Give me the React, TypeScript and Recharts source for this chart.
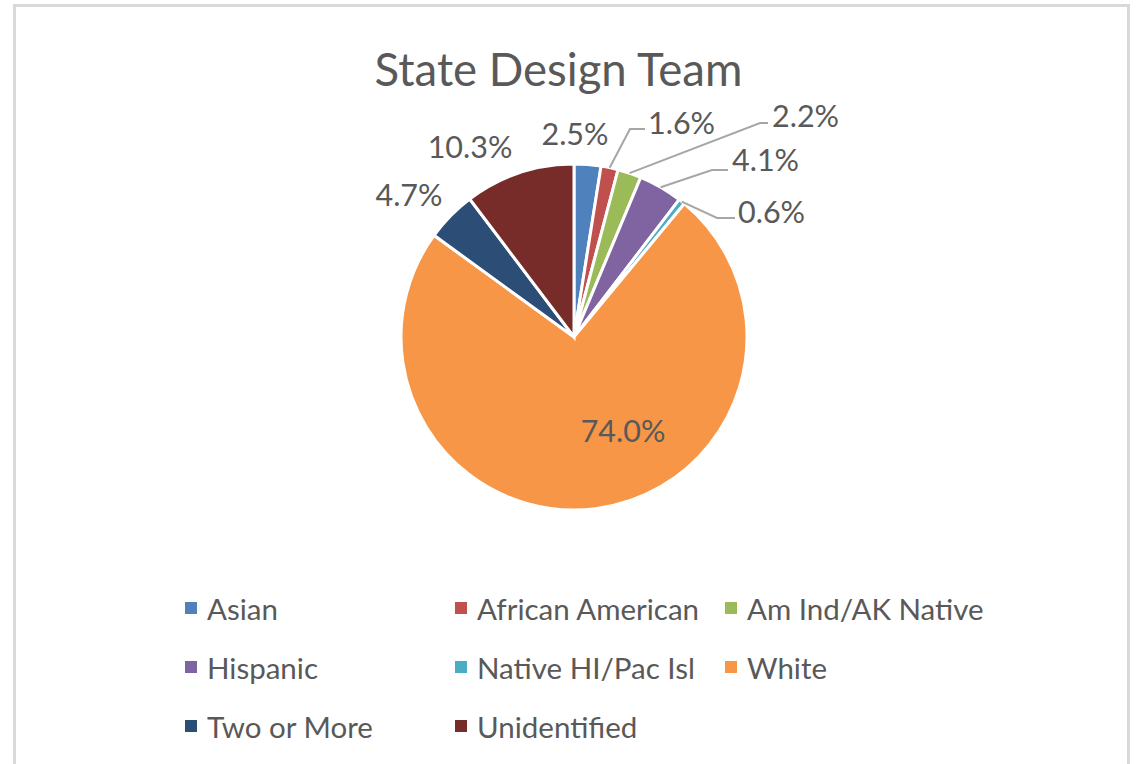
import { PieChart, Pie, Cell, Legend } from 'recharts';

const categories = [
  'Asian',
  'African American',
  'Am Ind/AK Native',
  'Hispanic',
  'Native HI/Pac Isl',
  'White',
  'Two or More',
  'Unidentified',
];
const shares = [2.5, 1.6, 2.2, 4.1, 0.6, 74.0, 4.7, 10.3];
const colors = ['#4F81BD', '#C0504D', '#9BBB59', '#8064A2', '#4BACC6', '#F79646', '#2C4D75', '#772C2A'];

const data = categories.map((name, i) => ({ name, value: shares[i] }));

const FONT = 'Lato, "Open Sans", sans-serif';
const TEXT = '#595959';
const RADIAN = Math.PI / 180;

// label placement relative to the pie centre; elbow/end set a leader line
type Placement = {
  x: number;
  y: number;
  anchor: 'start' | 'middle';
  elbow?: [number, number];
  end?: [number, number];
};
const placements: Placement[] = [
  { x: 1, y: -204, anchor: 'middle' },
  { x: 74, y: -215, anchor: 'start', elbow: [56, -208], end: [71, -208] },
  { x: 198, y: -222, anchor: 'start', elbow: [186, -214], end: [194, -214] },
  { x: 158, y: -178, anchor: 'start', elbow: [138, -167], end: [154, -167] },
  { x: 164, y: -126, anchor: 'start', elbow: [143, -119], end: [161, -119] },
  { x: 49, y: 93, anchor: 'middle' },
  { x: -165, y: -143, anchor: 'middle' },
  { x: -104, y: -191, anchor: 'middle' },
];

function renderLabel(props: any) {
  const { cx, cy, midAngle, outerRadius, index, value } = props;
  const p = placements[index];
  const sx = cx + outerRadius * Math.cos(-midAngle * RADIAN);
  const sy = cy + outerRadius * Math.sin(-midAngle * RADIAN);
  return (
    <g key={`lbl-${index}`}>
      {p.elbow && p.end && (
        <polyline
          points={`${sx},${sy} ${cx + p.elbow[0]},${cy + p.elbow[1]} ${cx + p.end[0]},${cy + p.end[1]}`}
          fill="none"
          stroke="#a6a6a6"
          strokeWidth={2}
        />
      )}
      <text
        x={cx + p.x}
        y={cy + p.y}
        textAnchor={p.anchor}
        dominantBaseline="central"
        fill={TEXT}
        fontSize={30.5}
        fontFamily={FONT}
      >
        {`${Number(value).toFixed(1)}%`}
      </text>
    </g>
  );
}

function LegendGrid() {
  return (
    <div style={{ position: 'relative', width: 900, height: 180 }}>
      {categories.map((name, i) => (
        <div
          key={name}
          style={{
            position: 'absolute',
            left: (i % 3) * 270,
            top: Math.floor(i / 3) * 59,
            display: 'flex',
            alignItems: 'center',
            height: 30,
            fontFamily: FONT,
            fontSize: 29.5,
            color: TEXT,
            whiteSpace: 'nowrap',
          }}
        >
          <span style={{ width: 12, height: 12, background: colors[i], marginRight: 10, display: 'inline-block' }} />
          {name}
        </div>
      ))}
    </div>
  );
}

export default function App() {
  return (
    <div style={{ position: 'absolute', left: 0, top: 0, width: 1139, height: 764, background: '#fff', overflow: 'hidden' }}>
      <div
        style={{
          position: 'absolute',
          left: 13,
          top: 4,
          width: 1117,
          height: 800,
          border: '3px solid #d9d9d9',
          boxSizing: 'border-box',
        }}
      />
      <div
        style={{
          position: 'absolute',
          left: 0,
          width: 1117,
          top: 42,
          textAlign: 'center',
          fontFamily: FONT,
          fontSize: 45.5,
          color: TEXT,
          lineHeight: '54px',
        }}
      >
        State Design Team
      </div>
      <div style={{ position: 'absolute', left: 0, top: 0 }}>
        <PieChart width={1139} height={764} margin={{ top: 0, right: 0, bottom: 0, left: 0 }}>
          <Pie
            data={data}
            dataKey="value"
            nameKey="name"
            cx={574}
            cy={337}
            outerRadius={173}
            startAngle={90}
            endAngle={-270}
            stroke="#ffffff"
            strokeWidth={3}
            label={renderLabel}
            labelLine={false}
            isAnimationActive={false}
          >
            {data.map((entry, i) => (
              <Cell key={entry.name} fill={colors[i]} />
            ))}
          </Pie>
          <Legend
            content={() => <LegendGrid />}
            wrapperStyle={{ position: 'absolute', left: 185, top: 593, width: 900 }}
          />
        </PieChart>
      </div>
    </div>
  );
}
